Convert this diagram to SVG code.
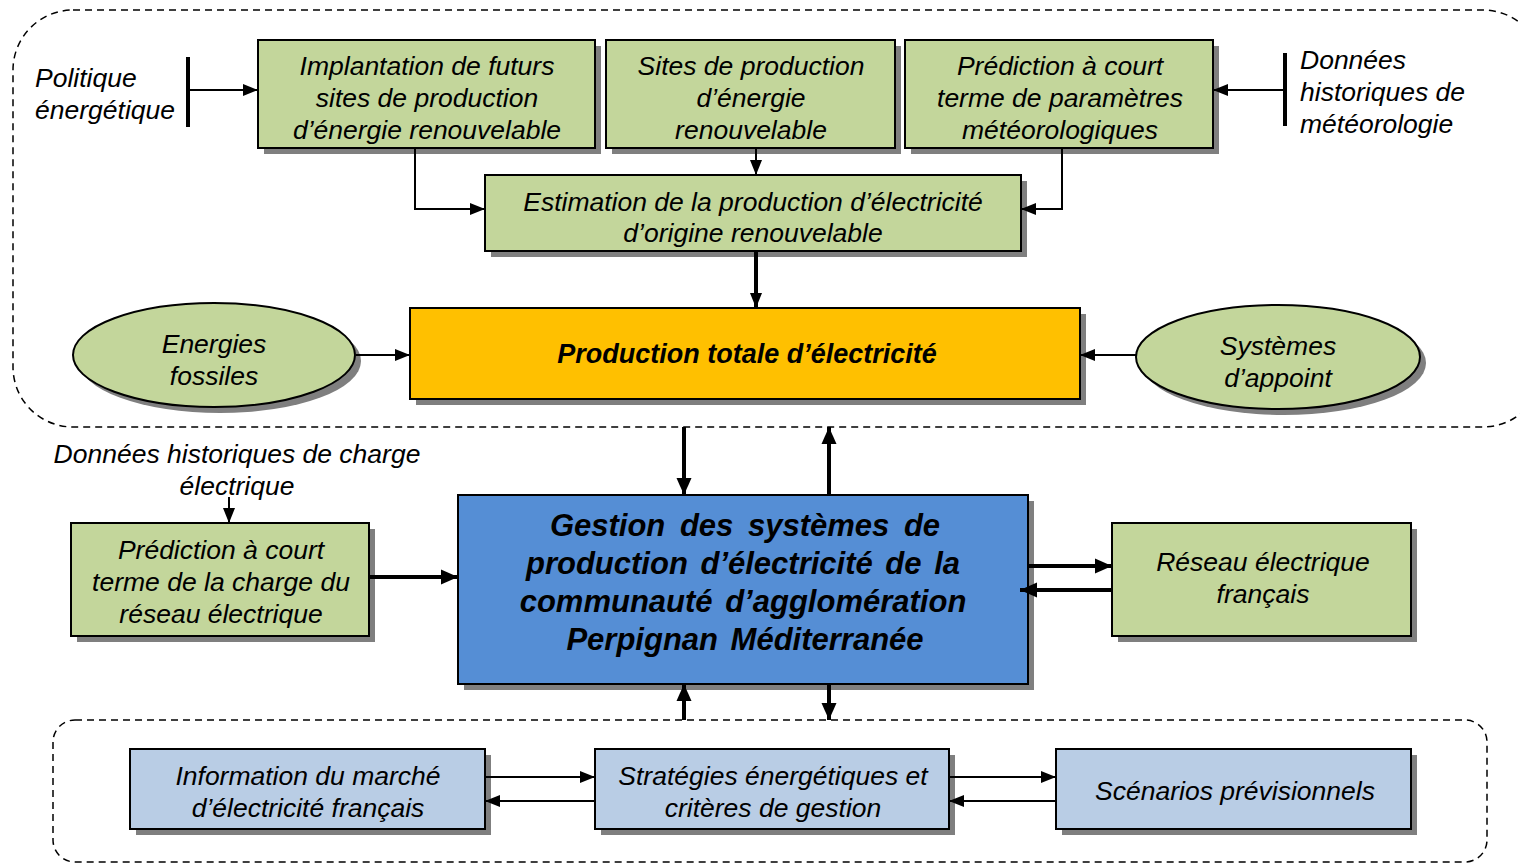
<svg xmlns="http://www.w3.org/2000/svg" width="1520" height="864" viewBox="0 0 1520 864">
<defs>
<style>
text{font-family:"Liberation Sans",Arial,sans-serif;font-style:italic;font-size:26.5px;fill:#000;text-anchor:middle}
.l{text-anchor:start}
.b{font-weight:bold;font-size:27px}
.g{font-size:31px;font-weight:bold}
.box{stroke:#000;stroke-width:2}
.sh{fill:#7f7f7f}
.green{fill:#C3D69B}
.blue{fill:#B9CDE5}
.dash{fill:none;stroke:#000;stroke-width:1.5;stroke-dasharray:7,5}
.c{fill:none;stroke:#000;stroke-width:2}
.t{fill:none;stroke:#000;stroke-width:4}
</style>
<marker id="a" markerUnits="userSpaceOnUse" markerWidth="16" markerHeight="14" refX="15" refY="7" orient="auto"><path d="M0,1 L15,7 L0,13 Z" fill="#000"/></marker>
<marker id="A" markerUnits="userSpaceOnUse" markerWidth="18" markerHeight="16" refX="17" refY="8" orient="auto"><path d="M0,0.5 L17,8 L0,15.5 Z" fill="#000"/></marker>
</defs>
<rect class="dash" x="13" y="10" width="1530" height="417" rx="60"/>
<rect class="dash" x="53" y="720" width="1434" height="142" rx="22"/>
<g id="politique">
<text class="l" x="35" y="87">Politique</text>
<text class="l" x="35" y="119">énergétique</text>
</g>
<g id="meteo-hist">
<text class="l" x="1300" y="69">Données</text>
<text class="l" x="1300" y="101">historiques de</text>
<text class="l" x="1300" y="133">météorologie</text>
</g>
<g id="implantation">
<rect class="sh" x="264" y="46" width="337" height="108"/>
<rect class="box green" x="258" y="40" width="337" height="108"/>
<text x="427" y="75">Implantation de futurs</text>
<text x="427" y="107">sites de production</text>
<text x="427" y="139">d’énergie renouvelable</text>
</g>
<g id="sites">
<rect class="sh" x="612" y="46" width="289" height="108"/>
<rect class="box green" x="606" y="40" width="289" height="108"/>
<text x="751" y="75">Sites de production</text>
<text x="751" y="107">d’énergie</text>
<text x="751" y="139">renouvelable</text>
</g>
<g id="prediction-meteo">
<rect class="sh" x="911" y="46" width="308" height="108"/>
<rect class="box green" x="905" y="40" width="308" height="108"/>
<text x="1060" y="75">Prédiction à court</text>
<text x="1060" y="107">terme de paramètres</text>
<text x="1060" y="139">météorologiques</text>
</g>
<g id="estimation">
<rect class="sh" x="491" y="181" width="536" height="76"/>
<rect class="box green" x="485" y="175" width="536" height="76"/>
<text x="753" y="211">Estimation de la production d’électricité</text>
<text x="753" y="242">d’origine renouvelable</text>
</g>
<g id="production">
<rect class="sh" x="416" y="314" width="670" height="91"/>
<rect class="box" fill="#FFC000" x="410" y="308" width="670" height="91"/>
<text class="b" x="747" y="363">Production totale d’électricité</text>
</g>
<g id="fossiles">
<ellipse class="sh" cx="220" cy="361" rx="141" ry="52"/>
<ellipse class="box green" cx="214" cy="355" rx="141" ry="52"/>
<text x="214" y="353">Energies</text>
<text x="214" y="385">fossiles</text>
</g>
<g id="appoint">
<ellipse class="sh" cx="1284" cy="363" rx="142" ry="52"/>
<ellipse class="box green" cx="1278" cy="357" rx="142" ry="52"/>
<text x="1278" y="355">Systèmes</text>
<text x="1278" y="387">d’appoint</text>
</g>
<g id="charge-hist">
<text x="237" y="463">Données historiques de charge</text>
<text x="237" y="495">électrique</text>
</g>
<g id="gestion">
<rect class="sh" x="464" y="501" width="570" height="189"/>
<rect class="box" fill="#558ED5" x="458" y="495" width="570" height="189"/>
<text class="g" x="745" y="536" word-spacing="6">Gestion des systèmes de</text>
<text class="g" x="743" y="574" word-spacing="4">production d’électricité de la</text>
<text class="g" x="743" y="612" word-spacing="4">communauté d’agglomération</text>
<text class="g" x="745" y="650" word-spacing="4">Perpignan Méditerranée</text>
</g>
<g id="prediction-charge">
<rect class="sh" x="77" y="529" width="298" height="113"/>
<rect class="box green" x="71" y="523" width="298" height="113"/>
<text x="221" y="559">Prédiction à court</text>
<text x="221" y="591">terme de la charge du</text>
<text x="221" y="623">réseau électrique</text>
</g>
<g id="reseau">
<rect class="sh" x="1118" y="529" width="299" height="113"/>
<rect class="box green" x="1112" y="523" width="299" height="113"/>
<text x="1263" y="571">Réseau électrique</text>
<text x="1263" y="603">français</text>
</g>
<g id="marche">
<rect class="sh" x="136" y="755" width="355" height="80"/>
<rect class="box blue" x="130" y="749" width="355" height="80"/>
<text x="308" y="785">Information du marché</text>
<text x="308" y="817">d’électricité français</text>
</g>
<g id="strategies">
<rect class="sh" x="601" y="755" width="354" height="80"/>
<rect class="box blue" x="595" y="749" width="354" height="80"/>
<text x="773" y="785">Stratégies énergétiques et</text>
<text x="773" y="817">critères de gestion</text>
</g>
<g id="scenarios">
<rect class="sh" x="1062" y="755" width="355" height="80"/>
<rect class="box blue" x="1056" y="749" width="355" height="80"/>
<text x="1235" y="800">Scénarios prévisionnels</text>
</g>
<g id="connectors">
<line class="t" x1="188" y1="57" x2="188" y2="127"/>
<line class="c" x1="190" y1="90" x2="258" y2="90" marker-end="url(#a)"/>
<line class="t" x1="1285" y1="53" x2="1285" y2="126"/>
<line class="c" x1="1283" y1="90" x2="1213" y2="90" marker-end="url(#a)"/>
<polyline class="c" points="415,149 415,209 485,209" marker-end="url(#a)"/>
<line class="c" x1="756" y1="149" x2="756" y2="175" marker-end="url(#a)"/>
<polyline class="c" points="1062,149 1062,209 1021,209" marker-end="url(#a)"/>
<line class="t" x1="756" y1="252" x2="756" y2="308" marker-end="url(#a)"/>
<line class="c" x1="356" y1="355" x2="410" y2="355" marker-end="url(#a)"/>
<line class="c" x1="1136" y1="355" x2="1080" y2="355" marker-end="url(#a)"/>
<line class="c" x1="229" y1="497" x2="229" y2="523" marker-end="url(#a)"/>
<line class="t" x1="684" y1="427" x2="684" y2="495" marker-end="url(#A)"/>
<line class="t" x1="829" y1="495" x2="829" y2="427" marker-end="url(#A)"/>
<line class="t" x1="370" y1="577" x2="458" y2="577" marker-end="url(#A)"/>
<line class="t" x1="1029" y1="566" x2="1112" y2="566" marker-end="url(#A)"/>
<line class="t" x1="1112" y1="590" x2="1020" y2="590" marker-end="url(#A)"/>
<line class="t" x1="684" y1="720" x2="684" y2="684" marker-end="url(#A)"/>
<line class="t" x1="829" y1="685" x2="829" y2="720" marker-end="url(#A)"/>
<line class="c" x1="486" y1="777" x2="595" y2="777" marker-end="url(#a)"/>
<line class="c" x1="595" y1="801" x2="485" y2="801" marker-end="url(#a)"/>
<line class="c" x1="950" y1="777" x2="1056" y2="777" marker-end="url(#a)"/>
<line class="c" x1="1056" y1="801" x2="949" y2="801" marker-end="url(#a)"/>
</g>
</svg>
